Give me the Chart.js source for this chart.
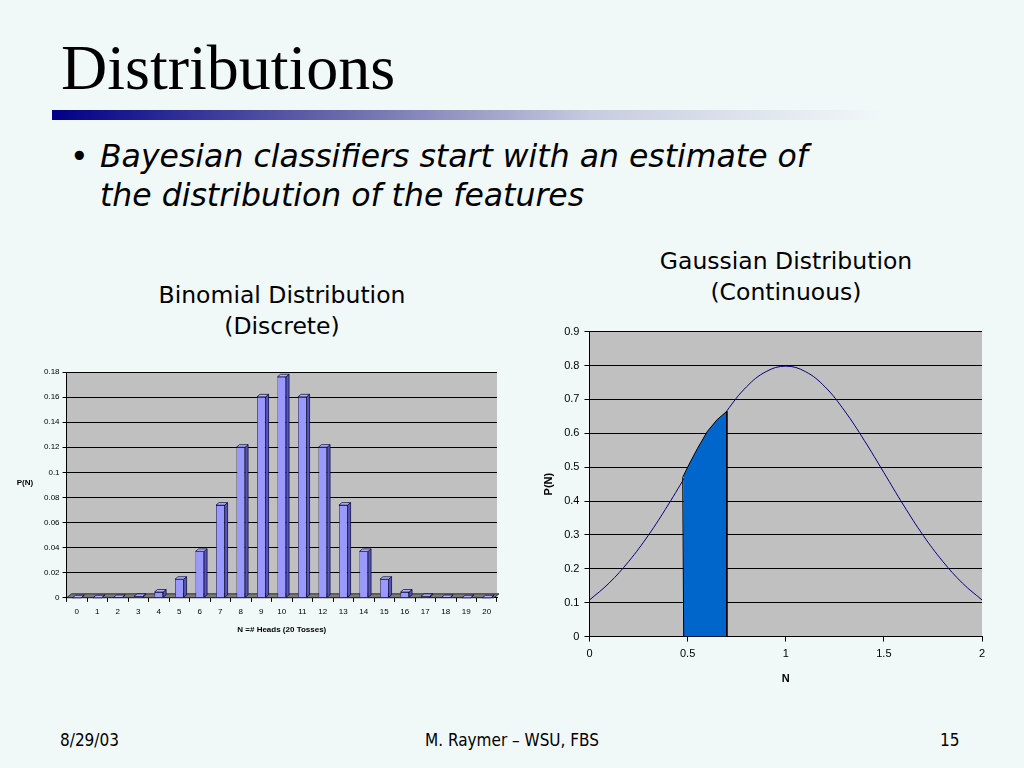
<!DOCTYPE html>
<html>
<head>
<meta charset="utf-8">
<script src="https://cdn.jsdelivr.net/npm/chart.js@4.4.0/dist/chart.umd.min.js"></script>
<style>
  html, body { margin: 0; padding: 0; }
  body { width: 1024px; height: 768px; background: #f1f8f8; position: relative; overflow: hidden; font-family: "DejaVu Sans", sans-serif; }
  .abs { position: absolute; }
  #title { left: 61px; top: 31px; font-family: "Liberation Serif", serif; font-size: 64px; color: #000; }
  #rule { left: 52px; top: 110px; width: 830px; height: 10px; background: linear-gradient(to right, #000088, #6a6aaa 35%, #c8cce0 65%, #f1f8f8); }
  #bullet { left: 70px; top: 137px; font-size: 31.5px; font-style: italic; color: #000; line-height: 39px; }
  #bullet .dot { position: absolute; left: 0; top: 0; font-style: normal; }
  #bullet .txt { position: absolute; left: 30px; top: 0; white-space: nowrap; }
  .ctitle { font-size: 23.5px; text-align: center; line-height: 31px; color: #000; }
  #footer div { position: absolute; top: 730px; font-family: "DejaVu Sans Condensed", "DejaVu Sans", sans-serif; font-size: 17px; color: #000; }
</style>
</head>
<body>
<div id="title" class="abs">Distributions</div>
<div id="rule" class="abs"></div>
<div id="bullet" class="abs"><span class="dot">•</span><span class="txt">Bayesian classifiers start with an estimate of<br>the distribution of the features</span></div>

<div class="abs ctitle" style="left:132px; top:280px; width:300px;">Binomial Distribution<br>(Discrete)</div>
<div class="abs ctitle" style="left:636px; top:246px; width:300px;">Gaussian Distribution<br>(Continuous)</div>

<div class="abs" style="left:0px; top:355px; width:510px; height:285px;"><canvas id="binom"></canvas></div>
<div class="abs" style="left:530px; top:320px; width:480px; height:370px;"><canvas id="gauss"></canvas></div>

<div id="footer">
  <div style="left:60px;">8/29/03</div>
  <div style="left:412px; width:200px; text-align:center;">M. Raymer – WSU, FBS</div>
  <div style="left:940px;">15</div>
</div>

<script>
// binomial, 20 tosses
const headsLabels = ['0','1','2','3','4','5','6','7','8','9','10','11','12','13','14','15','16','17','18','19','20'];
const headsProb = [0.000001, 0.00002, 0.0002, 0.0011, 0.0046, 0.0148, 0.037, 0.0739, 0.1201, 0.1602, 0.1762,
                   0.1602, 0.1201, 0.0739, 0.037, 0.0148, 0.0046, 0.0011, 0.0002, 0.00002, 0.000001];
const binomTicks = [0, 0.02, 0.04, 0.06, 0.08, 0.1, 0.12, 0.14, 0.16, 0.18];

// gaussian curve
const gaussX = [0, 0.1, 0.2, 0.3, 0.4, 0.5, 0.6, 0.7, 0.8, 0.9, 1.0, 1.1, 1.2, 1.3, 1.4, 1.5, 1.6, 1.7, 1.8, 1.9, 2.0];
const gaussY = [0.108, 0.158, 0.222, 0.299, 0.388, 0.484, 0.579, 0.666, 0.737, 0.782, 0.798,
                0.782, 0.737, 0.666, 0.579, 0.484, 0.388, 0.299, 0.222, 0.158, 0.108];
// shaded area between about 0.48 and 0.7
const shadeX = [0.48, 0.475, 0.5, 0.55, 0.6, 0.65, 0.7, 0.7];
const shadeY = [0, 0.47, 0.50, 0.555, 0.605, 0.64, 0.665, 0];
const gaussTicksX = [0, 0.5, 1, 1.5, 2];
const gaussTicksY = [0, 0.1, 0.2, 0.3, 0.4, 0.5, 0.6, 0.7, 0.8, 0.9];

const plotBg = {
  id: 'plotBg',
  beforeDraw(chart) {
    const { ctx, chartArea: a } = chart;
    ctx.save();
    ctx.fillStyle = '#c0c0c0';
    ctx.fillRect(a.left, a.top, a.right - a.left, a.bottom - a.top);
    ctx.restore();
  }
};

// fake 3d look for the excel bars
const bars3d = {
  id: 'bars3d',
  beforeDatasetsDraw(chart) {
    const { ctx, chartArea: a } = chart;
    ctx.save();
    ctx.fillStyle = '#7a7a7a';
    ctx.strokeStyle = '#000';
    ctx.lineWidth = 0.7;
    ctx.beginPath();
    ctx.moveTo(a.left, a.bottom);
    ctx.lineTo(a.left + 5, a.bottom - 4);
    ctx.lineTo(a.right + 2, a.bottom - 4);
    ctx.lineTo(a.right - 3, a.bottom);
    ctx.closePath();
    ctx.fill();
    ctx.stroke();
    ctx.restore();
  },
  afterDatasetsDraw(chart) {
    const { ctx } = chart;
    const dx = 3, dy = 2.5;
    ctx.save();
    ctx.strokeStyle = '#000033';
    ctx.lineWidth = 0.7;
    chart.getDatasetMeta(0).data.forEach(b => {
      const l = b.x - b.width / 2, r = b.x + b.width / 2;
      // side
      ctx.fillStyle = '#5656b8';
      ctx.beginPath();
      ctx.moveTo(r, b.base);
      ctx.lineTo(r + dx, b.base - dy);
      ctx.lineTo(r + dx, b.y - dy);
      ctx.lineTo(r, b.y);
      ctx.closePath();
      ctx.fill();
      ctx.stroke();
      // top
      ctx.fillStyle = '#b4b4ff';
      ctx.beginPath();
      ctx.moveTo(l, b.y);
      ctx.lineTo(l + dx, b.y - dy);
      ctx.lineTo(r + dx, b.y - dy);
      ctx.lineTo(r, b.y);
      ctx.closePath();
      ctx.fill();
      ctx.stroke();
    });
    ctx.restore();
  }
};

// horizontal y title like excel
const flatYTitle = {
  id: 'flatYTitle',
  afterDraw(chart) {
    const { ctx, chartArea: a } = chart;
    ctx.save();
    ctx.font = 'bold 8px "Liberation Sans", sans-serif';
    ctx.fillStyle = '#000';
    ctx.textAlign = 'center';
    ctx.textBaseline = 'middle';
    ctx.fillText('P(N)', 25, (a.top + a.bottom) / 2 - 2);
    ctx.restore();
  }
};

const plain = v => String(v);

new Chart(document.getElementById('binom'), {
  type: 'bar',
  data: {
    labels: headsLabels,
    datasets: [{
      data: headsProb,
      backgroundColor: '#9999ff',
      borderColor: '#000033',
      borderWidth: 0.7,
      barPercentage: 0.42,
      categoryPercentage: 1
    }]
  },
  options: {
    responsive: true,
    maintainAspectRatio: false,
    animation: false,
    layout: { padding: { left: 41, right: 13, top: 17, bottom: 1 } },
    plugins: { legend: { display: false }, tooltip: { enabled: false } },
    scales: {
      x: {
        grid: { display: true, drawOnChartArea: false, color: '#000', tickLength: 4 },
        border: { display: true, color: '#000' },
        ticks: { color: '#000', font: { family: 'Liberation Sans', size: 8 }, maxRotation: 0, autoSkip: false, padding: 5 },
        title: { display: true, text: 'N =# Heads (20 Tosses)', color: '#000', font: { family: 'Liberation Sans', size: 8, weight: 'bold' }, padding: { top: 4 } }
      },
      y: {
        min: 0, max: 0.18,
        afterBuildTicks(axis) { axis.ticks = binomTicks.map(v => ({ value: v })); },
        grid: { color: '#000', lineWidth: 1, tickLength: 4 },
        border: { display: true, color: '#000' },
        ticks: { color: '#000', font: { family: 'Liberation Sans', size: 8 }, padding: 3, callback: plain }
      }
    }
  },
  plugins: [plotBg, bars3d, flatYTitle]
});

new Chart(document.getElementById('gauss'), {
  type: 'scatter',
  data: {
    datasets: [
      {
        data: shadeX.map((x, i) => ({ x: x, y: shadeY[i] })),
        showLine: true,
        fill: 'origin',
        backgroundColor: '#0066cc',
        borderColor: '#000',
        borderWidth: 1,
        pointRadius: 0,
        tension: 0,
        order: 0
      },
      {
        data: gaussX.map((x, i) => ({ x: x, y: gaussY[i] })),
        showLine: true,
        fill: false,
        borderColor: '#000080',
        borderWidth: 1,
        pointRadius: 0,
        tension: 0.4,
        order: 1
      }
    ]
  },
  options: {
    responsive: true,
    maintainAspectRatio: false,
    animation: false,
    layout: { padding: { left: 8, right: 28, top: 10, bottom: 0 } },
    plugins: { legend: { display: false }, tooltip: { enabled: false } },
    scales: {
      x: {
        type: 'linear', min: 0, max: 2,
        afterBuildTicks(axis) { axis.ticks = gaussTicksX.map(v => ({ value: v })); },
        grid: { drawOnChartArea: false, color: '#000', tickLength: 5 },
        border: { display: true, color: '#000' },
        ticks: { color: '#000', font: { family: 'Liberation Sans', size: 11 }, padding: 6, callback: plain },
        title: { display: true, text: 'N', color: '#000', font: { family: 'Liberation Sans', size: 11, weight: 'bold' }, padding: { top: 6 } }
      },
      y: {
        min: 0, max: 0.9,
        afterBuildTicks(axis) { axis.ticks = gaussTicksY.map(v => ({ value: v })); },
        ticks: { color: '#000', font: { family: 'Liberation Sans', size: 11 }, padding: 5, callback: plain },
        grid: { color: '#000', lineWidth: 1, tickLength: 5 },
        border: { display: true, color: '#000' },
        title: { display: true, text: 'P(N)', color: '#000', font: { family: 'Liberation Sans', size: 11, weight: 'bold' }, padding: { bottom: 4 } }
      }
    }
  },
  plugins: [plotBg]
});
</script>
</body>
</html>
